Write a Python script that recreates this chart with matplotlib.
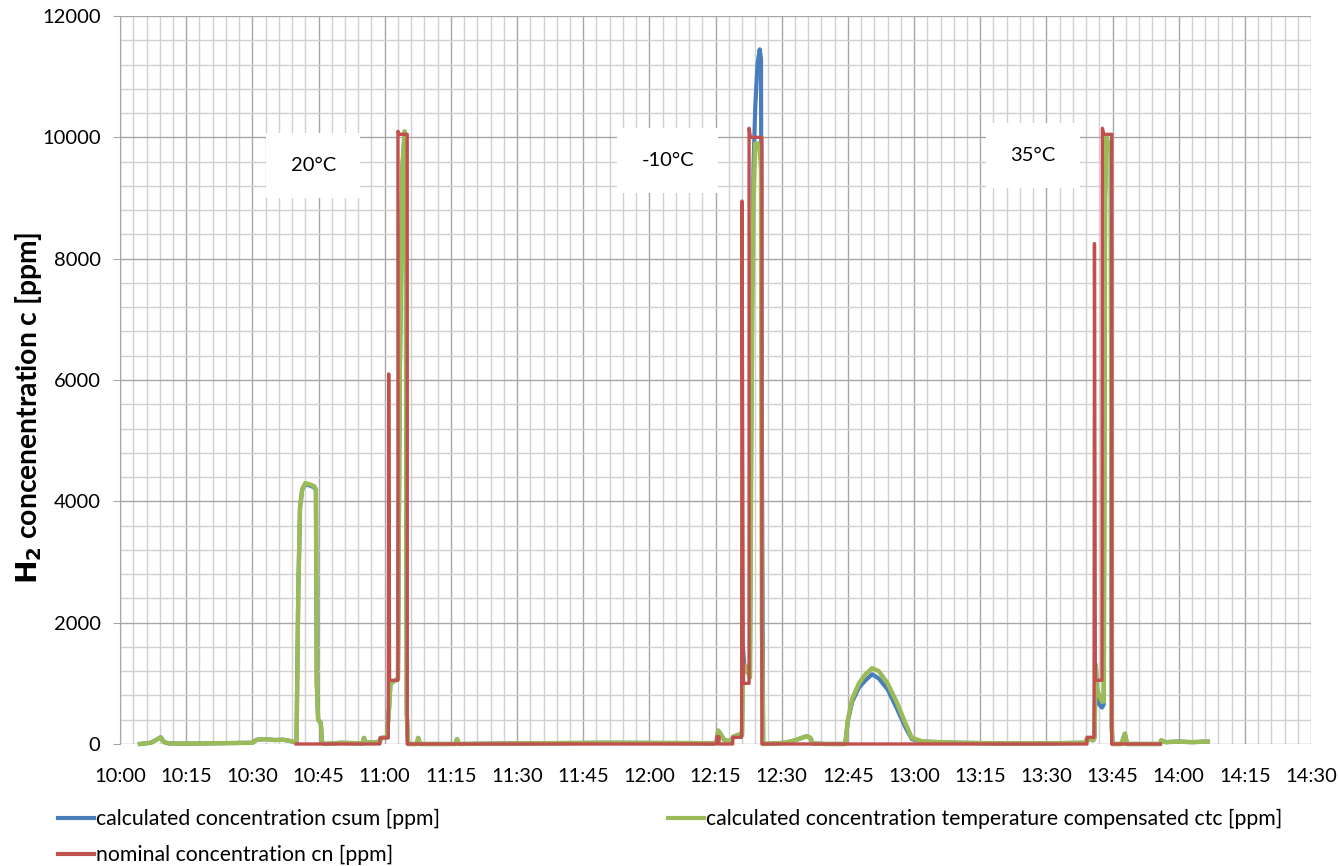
"""H2 concentration vs time at three temperatures."""

import matplotlib
matplotlib.use("Agg")
import matplotlib.pyplot as plt
from matplotlib.lines import Line2D
from matplotlib.ticker import MultipleLocator, FuncFormatter

plt.rcParams["font.family"] = ["Lato", "DejaVu Sans"]

BLUE = "#4a7ebb"
GREEN = "#9bbb59"
RED = "#c0504d"

# time in minutes after 10:00
t_sensor = [4.5, 7.0, 8.5, 9.2, 10.0, 11.0, 14.0, 20.0, 25.0, 30.0, 31.0, 33.0, 35.0, 37.0,
            38.5, 39.5, 40.0, 40.4, 40.8, 41.3, 42.0, 43.0, 44.0, 44.4, 44.6, 44.9, 45.5,
            45.8, 46.5, 50.0, 55.0, 55.3, 55.7, 58.0, 58.9, 59.2, 60.5, 61.0, 61.3, 62.5,
            63.0, 63.4, 64.0, 64.5, 64.8, 65.0, 65.3, 67.2, 67.6, 68.0, 76.0, 76.4, 76.8,
            90.0, 110.0, 130.0, 134.5, 135.2, 135.6, 136.2, 137.0, 138.5, 139.0, 140.5,
            141.0, 141.2, 141.5, 142.2, 142.8, 143.2, 143.6, 144.0, 144.5, 145.0, 145.3,
            145.5, 145.8, 150.8, 153.0, 155.7, 156.5, 157.0, 160.0, 164.4, 165.0, 166.0,
            167.5, 169.0, 170.5, 172.0, 174.0, 176.0, 178.0, 179.5, 182.0, 190.0, 200.0,
            210.0, 218.0, 218.8, 219.2, 220.6, 220.9, 221.2, 221.5, 222.0, 222.6, 223.0,
            223.3, 223.6, 224.0, 224.6, 224.8, 225.0, 227.0, 227.8, 228.3, 235.8, 236.0,
            237.0, 240.0, 243.0, 246.6]

c_tc = [0, 20, 80, 110, 30, 10, 5, 10, 15, 20, 70, 80, 65, 70,
        50, 30, 40, 2500, 3900, 4200, 4300, 4280, 4250, 4200, 1000, 400, 350,
        20, 0, 20, 10, 100, 20, 30, 40, 100, 110, 600, 1000, 1050,
        1080, 6000, 9500, 10100, 8000, 500, 0, 0, 100, 0, 0, 80, 0,
        10, 20, 15, 10, 30, 220, 160, 60, 50, 120, 160,
        150, 1100, 1300, 1200, 1100, 6000, 9000, 9900, 9900, 9800, 9500,
        2000, 0, 20, 60, 130, 100, 10, 0, 0, 400, 750,
        1000, 1150, 1250, 1200, 1000, 700, 350, 100, 40, 20, 10,
        10, 20, 20, 80, 60, 100, 1300, 900, 800, 700, 700,
        9000, 10000, 9900, 9800, 300, 0, 0, 170, 0, 0, 60,
        30, 40, 30, 40]

c_sum = [0, 20, 80, 110, 30, 10, 5, 10, 15, 20, 70, 80, 65, 70,
         50, 30, 40, 2500, 3900, 4200, 4280, 4260, 4230, 4180, 1000, 400, 350,
         20, 0, 20, 10, 100, 20, 30, 40, 100, 110, 600, 1000, 1050,
         1080, 6000, 9500, 10050, 8000, 500, 0, 0, 100, 0, 0, 80, 0,
         10, 20, 15, 10, 30, 220, 160, 60, 50, 120, 160,
         150, 1600, 1300, 1250, 1100, 7000, 9500, 10500, 11200, 11450, 11300,
         5000, 0, 20, 60, 130, 100, 10, 0, 0, 380, 700,
         930, 1050, 1150, 1080, 900, 600, 280, 80, 40, 20, 10,
         10, 20, 20, 80, 60, 100, 1300, 800, 650, 600, 650,
         9000, 10000, 9900, 9800, 300, 0, 0, 170, 0, 0, 60,
         30, 40, 30, 40]

t_nominal = [39.9, 58.9, 58.9, 60.8, 60.9, 61.1, 63.0, 63.0, 63.3, 65.1, 65.1,
             135.3, 135.3, 135.8, 135.8, 138.9, 138.9, 140.9, 141.0, 141.3, 142.6, 142.6,
             142.9, 145.5, 145.5,
             219.2, 219.2, 220.8, 220.9, 221.1, 222.6, 222.7, 223.0, 224.8, 224.8, 235.8]
c_nominal = [0, 0, 100, 100, 6100, 1050, 1050, 10100, 10050, 10050, 0,
             0, 120, 120, 0, 0, 110, 110, 8950, 1000, 1000, 10150,
             10000, 10000, 0,
             0, 110, 110, 8250, 1050, 1050, 10150, 10050, 10050, 0, 0]

temp_labels = ["20°C", "-10°C", "35°C"]
temp_label_t = [43.8, 124.2, 207.0]
temp_label_c = [9540, 9620, 9700]

fig = plt.figure(figsize=(13.4, 8.66), dpi=100)
ax = fig.add_axes([0.0896, 0.1409, 0.8888, 0.8406])

ax.plot(t_sensor, c_sum, color=BLUE, lw=3.0, zorder=3, clip_on=False)
ax.plot(t_sensor, c_tc, color=GREEN, lw=3.2, zorder=4, clip_on=False)
ax.plot(t_nominal, c_nominal, color=RED, lw=2.4, zorder=5, clip_on=False)

ax.set_xlim(0, 270)
ax.set_ylim(0, 12000)
ax.xaxis.set_major_locator(MultipleLocator(15))
ax.xaxis.set_minor_locator(MultipleLocator(3))
ax.yaxis.set_major_locator(MultipleLocator(2000))
ax.yaxis.set_minor_locator(MultipleLocator(400))
ax.xaxis.set_major_formatter(
    FuncFormatter(lambda v, _: f"{10 + int(v) // 60}:{int(v) % 60:02d}"))
ax.grid(which="major", color="#a6a6a6", lw=1.0, zorder=0)
ax.grid(which="minor", color="#d0d0d0", lw=1.0, zorder=0)
ax.set_axisbelow(True)
for side in ["top", "right", "bottom"]:
    ax.spines[side].set_visible(False)
ax.spines["left"].set_color("#a6a6a6")
ax.tick_params(which="major", axis="y", length=5, color="#a6a6a6",
               labelsize=14.5, pad=9)
ax.tick_params(which="major", axis="x", length=0, labelsize=14.5, pad=17)
ax.tick_params(which="minor", length=0)

ax.set_ylabel(r"$\mathbf{H_2}$ concenentration c [ppm]", fontsize=20.3,
              fontweight="bold", va="center")
ax.yaxis.set_label_coords(-0.077, 0.462)

for lbl, tx, cy in zip(temp_labels, temp_label_t, temp_label_c):
    ax.text(tx, cy, lbl, fontsize=14.5, ha="center", va="center", zorder=6,
            bbox=dict(boxstyle="square,pad=1.2", fc="white", ec="none"))

handles = [Line2D([], [], color=BLUE, lw=3),
           Line2D([], [], color=RED, lw=3),
           Line2D([], [], color=GREEN, lw=3)]
labels = ["calculated concentration csum [ppm]",
          "nominal concentration cn [ppm]",
          "calculated concentration temperature compensated ctc [ppm]"]
fig.legend(handles, labels, loc="lower left", bbox_to_anchor=(0.029, -0.021),
           ncol=2, frameon=False, fontsize=15.3, handlelength=1.7,
           handletextpad=0.1, columnspacing=10.7, labelspacing=0.75)

fig.savefig("out.png", dpi=100)
